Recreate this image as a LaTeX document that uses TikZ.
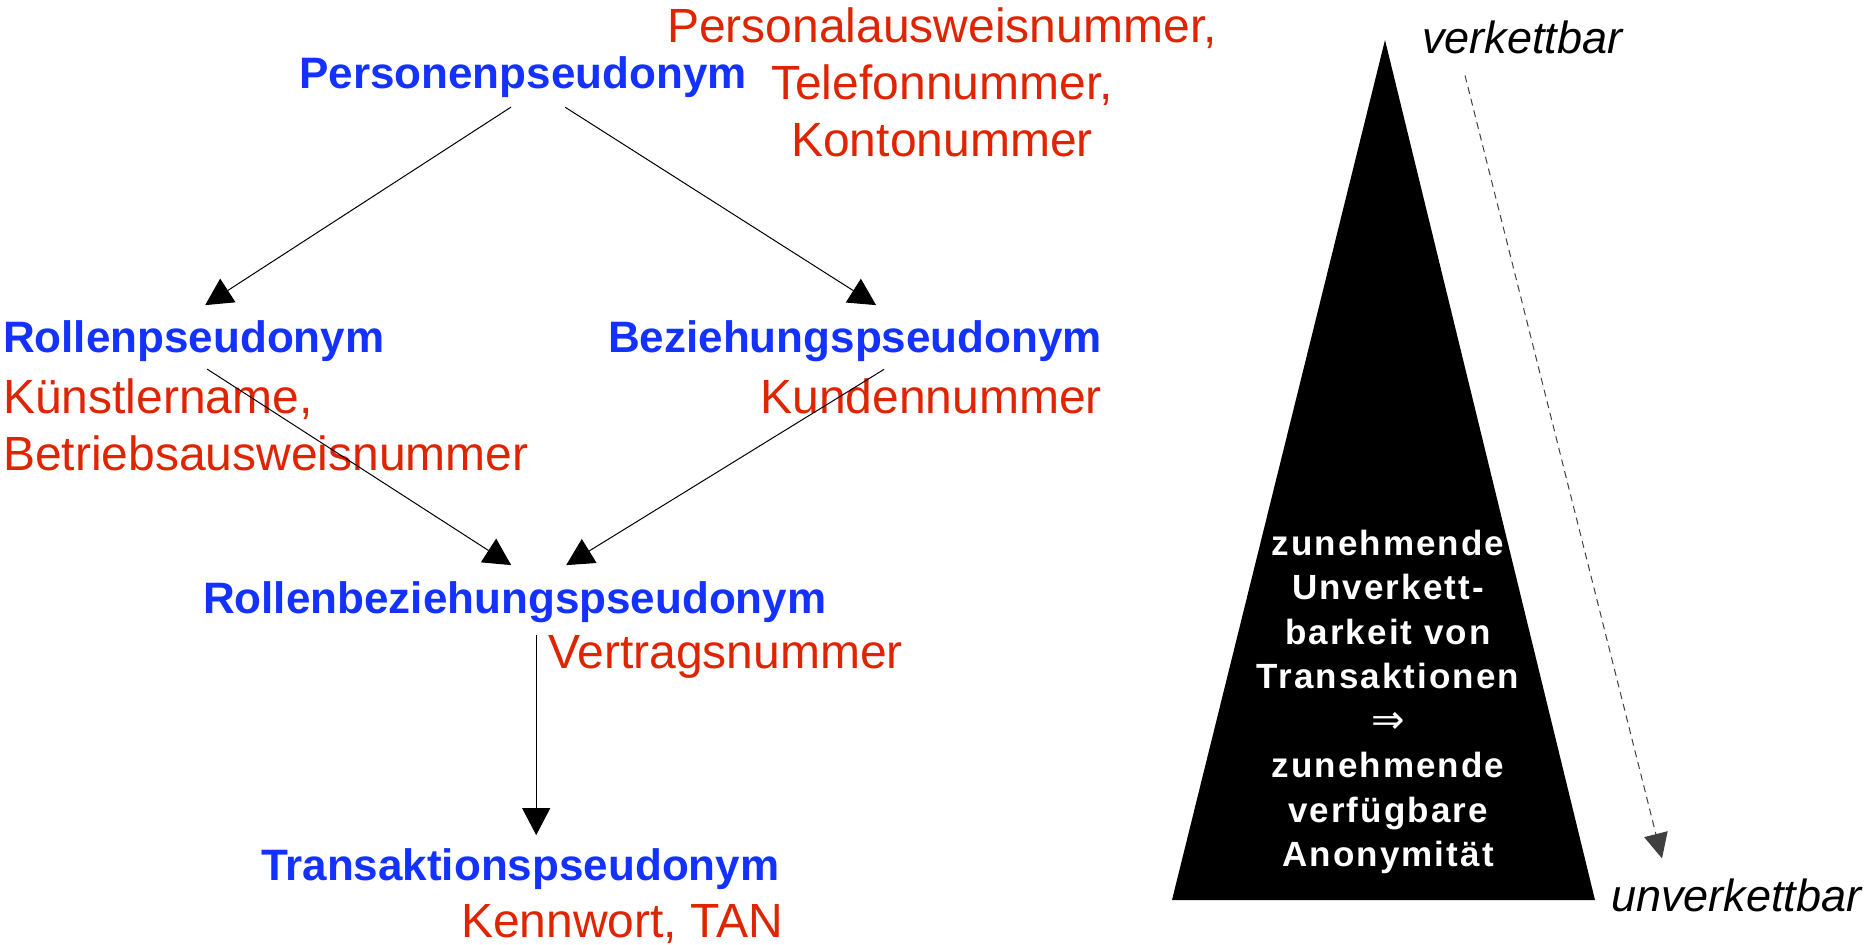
\documentclass[tikz,border=0pt]{standalone}
\usepackage{fontspec}
\setmainfont{Liberation Sans}
\newfontfamily\trifont[LetterSpace=6]{Liberation Sans}
\newfontfamily\symfont{DejaVu Sans}
\usetikzlibrary{arrows.meta}
\definecolor{pblue}{RGB}{20,50,255}
\definecolor{pred}{RGB}{222,36,0}
\tikzset{
  pseu/.style={inner sep=0pt, outer sep=0pt, text=pblue, font=\fontsize{44}{50}\selectfont\bfseries},
  exmp/.style={inner sep=0pt, outer sep=0pt, text=pred, font=\fontsize{48}{57}\selectfont},
  lab/.style={inner sep=0pt, outer sep=0pt, font=\fontsize{45}{50}\selectfont\itshape},
  conn/.style={line width=1pt, -{Triangle[length=27pt,width=28pt]}},
  dconn/.style={line width=1pt, black!75, dash pattern=on 7pt off 5pt, -{Triangle[length=25pt,width=24pt]}},
  tritext/.style={inner sep=0pt, outer sep=0pt, text=white, align=center, font=\trifont\fontsize{35}{44.5}\selectfont\bfseries}
}
\begin{document}
\begin{tikzpicture}[x=1pt,y=-1pt]
\useasboundingbox (0,0) rectangle (1866,945);

% pseudonym nodes
\node[pseu, anchor=base] (pp) at (523,88) {Personenpseudonym};
\node[exmp, anchor=north, align=center] (prs) at (942,2) {\rule{0pt}{40pt}Personalausweisnummer,\\Telefonnummer,\\Kontonummer};
\node[pseu, anchor=base west] (rp) at (3,352) {Rollenpseudonym};
\node[exmp, anchor=north west, align=left] (kb) at (3,373) {\rule{0pt}{40pt}Künstlername,\\Betriebsausweisnummer};
\node[pseu, anchor=base east] (bp) at (1102,352) {Beziehungspseudonym};
\node[exmp, anchor=base east] (kn) at (1102,413) {Kundennummer};
\node[pseu, anchor=base west] (rbp) at (203,613) {Rollenbeziehungspseudonym};
\node[exmp, anchor=base west] (vn) at (548,668) {Vertragsnummer};
\node[pseu, anchor=base west] (tp) at (261,880) {Transaktionspseudonym};
\node[exmp, anchor=base east] (kt) at (783,937) {Kennwort, TAN};

% connectors
\draw[conn] ([xshift=-12pt,yshift=-10pt]pp.south) -- ([xshift=11.5pt,yshift=15pt]rp.north);
\draw[conn] ([xshift=42pt,yshift=-10pt]pp.south) -- ([xshift=21pt,yshift=15pt]bp.north);
\draw[conn] ([xshift=13.5pt,yshift=-8pt]rp.south) -- ([xshift=-3.5pt,yshift=16pt]rbp.north);
\draw[conn] ([xshift=29pt,yshift=-8pt]bp.south) -- ([xshift=51.5pt,yshift=16pt]rbp.north);
\coordinate (v1) at ([xshift=21.5pt,yshift=-13pt]rbp.south);
\draw[conn, shorten >=13pt] (v1) -- (v1 |- tp.north);

% triangle
\coordinate (apex) at (1385,40);
\coordinate (bl) at (1172,900);
\coordinate (br) at (1595,900);
\fill[black] (apex) -- (bl) -- (br) -- cycle;
\node[tritext, anchor=north] (tt) at (1388,525) {\rule{0pt}{30pt}zunehmende\\Unverkett-\\barkeit von\\Transaktionen\\{\symfont\mdseries\fontsize{40}{44.5}\selectfont ⇒}\\zunehmende\\verfügbare\\Anonymität};

% labels and dashed arrow
\node[lab, anchor=base west] (vk) at (1422,53) {verkettbar};
\node[lab, anchor=base west] (uvk) at (1611,911) {unverkettbar};
\draw[dconn] ([xshift=43pt,yshift=-22pt]vk.south west) -- ([xshift=51pt,yshift=20pt]uvk.north west);
\end{tikzpicture}
\end{document}
